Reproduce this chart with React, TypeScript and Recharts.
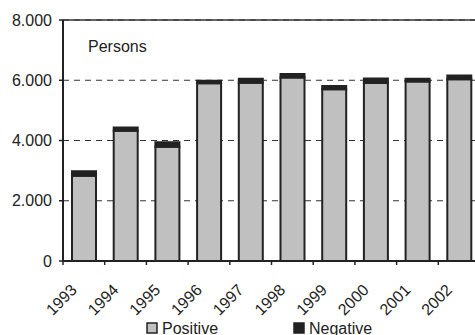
import { BarChart, Bar, XAxis, YAxis, CartesianGrid, ReferenceLine } from "recharts";

const years = ["1993", "1994", "1995", "1996", "1997", "1998", "1999", "2000", "2001", "2002"];
const positive = [2830, 4320, 3790, 5900, 5920, 6090, 5700, 5910, 5960, 6030];
const negative = [150, 110, 150, 80, 130, 120, 110, 150, 90, 130];
const yTicks = [0, 2000, 4000, 6000, 8000];
const legendItems = [
  { label: "Positive", fill: "#c0c0c0", x: 147 },
  { label: "Negative", fill: "#222", x: 294 },
];

const data = years.map((year, i) => ({ year, positive: positive[i], negative: negative[i] }));

const ink = "#222";
const font = "'Liberation Sans', Arial, sans-serif";

const formatThousands = (v: number) => String(v).replace(/\B(?=(\d{3})+(?!\d))/g, ".");

// year label rotated 45°, with the tick mark drawn at the category boundary
function YearTick(props: any) {
  const { x, y, payload } = props;
  const half = payload?.offset ?? 20.85;
  return (
    <g>
      <line x1={x - half} x2={x - half} y1={y} y2={y + 4} stroke={ink} strokeWidth={1.5} />
      <text
        x={0}
        y={0}
        transform={`translate(${x - 6},${y + 30}) rotate(-45)`}
        textAnchor="end"
        fontSize={16}
        fontFamily={font}
        fill={ink}
      >
        {payload.value}
      </text>
    </g>
  );
}

export default function App() {
  return (
    <div style={{ position: "absolute", left: 0, top: 0, width: 475, height: 335, overflow: "hidden", background: "#fff" }}>
      <BarChart
        width={490}
        height={335}
        data={data}
        margin={{ top: 20, right: 10, left: 0, bottom: 0 }}
        barSize={24}
      >
        <CartesianGrid vertical={false} horizontal stroke="#333" strokeDasharray="6 5" />
        <ReferenceLine y={8000} stroke="#333" strokeWidth={1.5} />
        <XAxis
          dataKey="year"
          height={74}
          tickSize={0}
          tickMargin={0}
          tickLine={false}
          axisLine={{ stroke: ink, strokeWidth: 2 }}
          tick={<YearTick />}
          interval={0}
        />
        <YAxis
          width={63}
          domain={[0, 8000]}
          ticks={yTicks}
          tickFormatter={formatThousands}
          tickSize={4}
          tickMargin={7}
          axisLine={{ stroke: ink, strokeWidth: 2 }}
          tickLine={{ stroke: ink, strokeWidth: 1.5 }}
          tick={{ fontSize: 16, fontFamily: font, fill: ink }}
        />
        <Bar dataKey="positive" name="Positive" stackId="a" fill="#c0c0c0" stroke={ink} strokeWidth={2} isAnimationActive={false} />
        <Bar dataKey="negative" name="Negative" stackId="a" fill={ink} stroke={ink} strokeWidth={2} isAnimationActive={false} />
        <text x={88} y={52} fontSize={16} fontFamily={font} fill={ink}>
          Persons
        </text>
        {legendItems.map((it) => (
          <g key={it.label}>
            <rect x={it.x} y={323} width={10} height={10} fill={it.fill} stroke={ink} strokeWidth={1.5} />
            <text x={it.x + 15} y={334} fontSize={16} fontFamily={font} fill={ink}>
              {it.label}
            </text>
          </g>
        ))}
      </BarChart>
    </div>
  );
}
